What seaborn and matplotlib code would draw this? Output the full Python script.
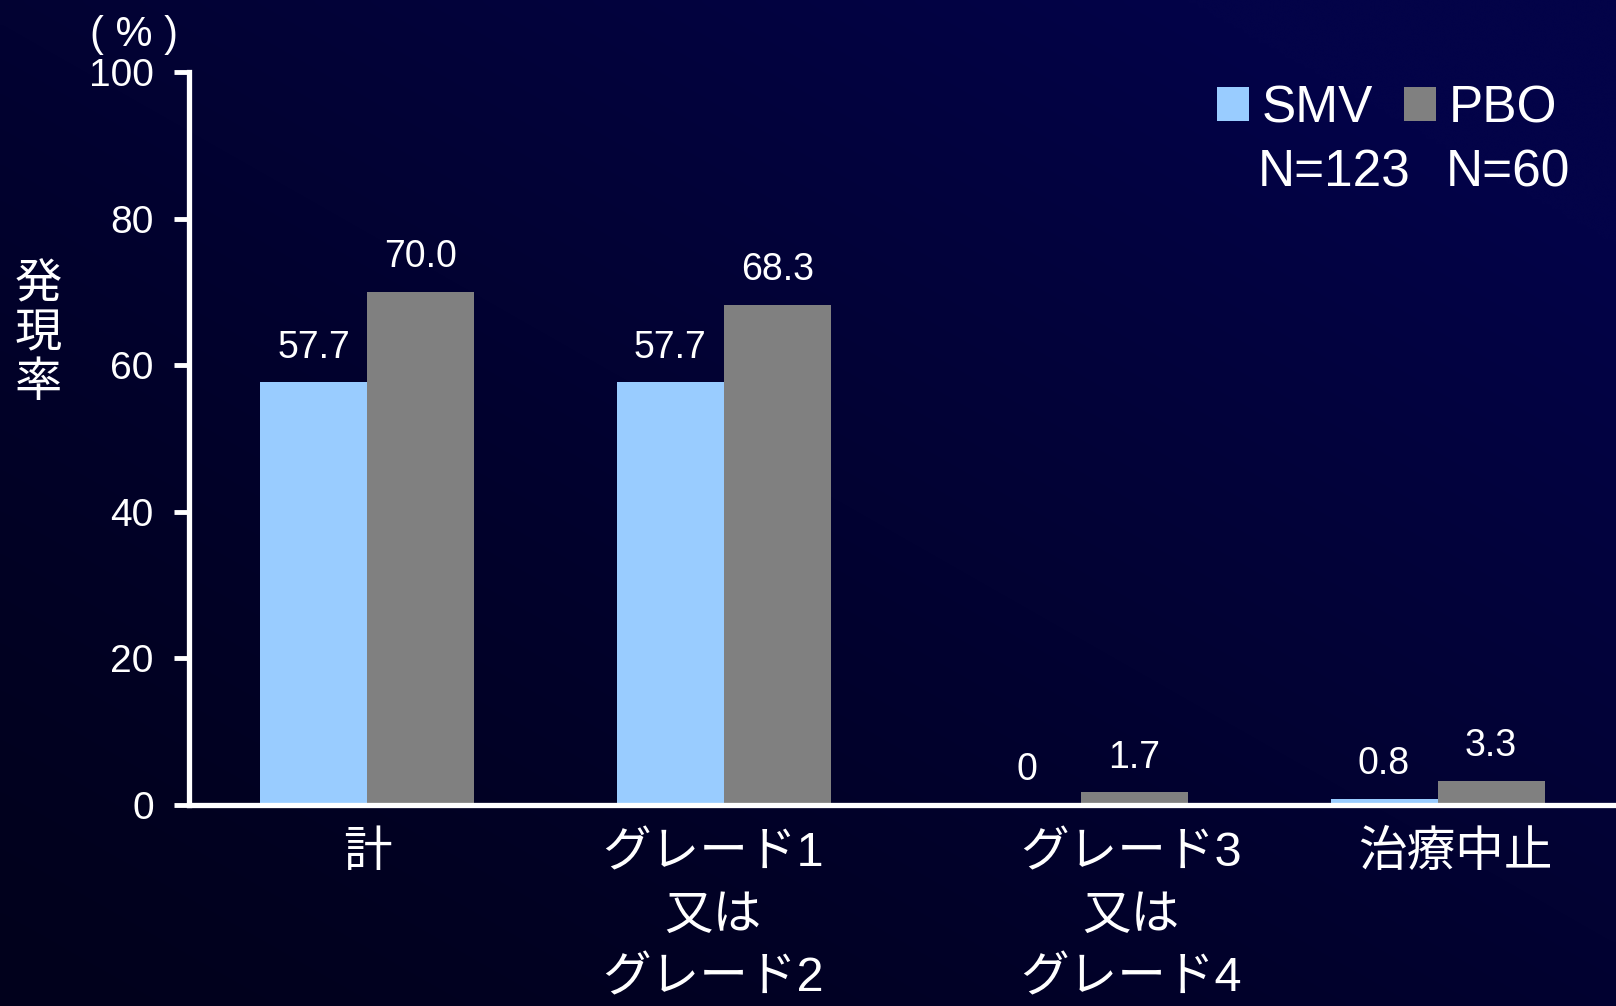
import numpy as np
import pandas as pd
import matplotlib
matplotlib.use("Agg")
import matplotlib.pyplot as plt
from matplotlib.patches import Patch
import seaborn as sns

# ---- data ----
categories = ["計", "グレード1\n又は\nグレード2", "グレード3\n又は\nグレード4", "治療中止"]
smv_values = [57.7, 57.7, 0.0, 0.8]
pbo_values = [70.0, 68.3, 1.7, 3.3]
series_names = ["SMV", "PBO"]
series_n = ["N=123", "N=60"]
y_ticks = [0, 20, 40, 60, 80, 100]

df = pd.DataFrame({
    "category": categories * 2,
    "value": smv_values + pbo_values,
    "series": [series_names[0]] * len(categories) + [series_names[1]] * len(categories),
})

sns.set_theme(style="white")
plt.rcParams["font.family"] = ["Liberation Sans", "Noto Sans CJK JP", "DejaVu Sans"]

colors = {"SMV": "#99CCFF", "PBO": "#808080"}

fig = plt.figure(figsize=(16.16, 10.06), dpi=100)

# background gradient
bg = fig.add_axes([0, 0, 1, 1], zorder=-10)
h, w = 200, 320
xx = np.linspace(0, 1, w)[None, :]
yy = np.linspace(1, 0, h)[:, None]
t = np.clip(0.55 * xx + 0.6 * yy, 0, 1)
t = t ** 1.3
c0 = np.array([0x01, 0x01, 0x1C]) / 255
c1 = np.array([0x03, 0x03, 0x48]) / 255
img = c0[None, None, :] * (1 - t[..., None]) + c1[None, None, :] * t[..., None]
bg.imshow(img, aspect="auto", extent=[0, 1, 0, 1], interpolation="bicubic")
bg.axis("off")

ax = fig.add_axes([0.1167, 0.2, 0.8833, 0.728])
ax.patch.set_alpha(0)
sns.barplot(data=df, x="category", y="value", hue="series", palette=colors,
            width=0.6, ax=ax, legend=False, saturation=1, linewidth=0,
            edgecolor="none")

ax.set_ylim(0, 100)
ax.set_xlim(-0.5, 3.5)
ax.set_yticks(y_ticks)
ax.set_yticklabels([str(v) for v in y_ticks], fontsize=28, color="white")
label_offsets = [0.0, -0.03, 0.14, 0.05]
ax.set_xticks([i + o for i, o in enumerate(label_offsets)])
ax.set_xticklabels(categories, fontsize=35, color="white", linespacing=1.5)
ax.tick_params(axis="x", length=0, pad=19)
ax.tick_params(axis="y", length=11, width=3.5, color="white", pad=14, left=True)
ax.set_xlabel("")
ax.set_ylabel("")

for s in ["top", "right"]:
    ax.spines[s].set_visible(False)
for s in ["left", "bottom"]:
    ax.spines[s].set_color("white")
    ax.spines[s].set_linewidth(3.8)
ax.spines["bottom"].set_zorder(5)

for cont in ax.containers:
    labels = ["0" if v == 0 else f"{v:.1f}" for v in cont.datavalues]
    ax.bar_label(cont, labels=labels, padding=12, fontsize=27, color="white")

# y-axis labels
fig.text(0.0235, 0.668, "発\n現\n率", fontsize=34, color="white", ha="center", va="center",
         linespacing=1.0, family=["Noto Sans CJK JP"])
fig.text(0.083, 0.965, "( % )", fontsize=30, color="white", ha="center", va="center")

# legend
handles = [Patch(facecolor=colors[n], edgecolor="none") for n in series_names]
leg = ax.legend(handles, series_names, ncol=2, loc="upper left",
                bbox_to_anchor=(0.706, 1.012), frameon=False, fontsize=37,
                handlelength=0.62, handleheight=0.62, handletextpad=0.25,
                columnspacing=0.6, borderaxespad=0)
for txt in leg.get_texts():
    txt.set_color("white")
fig.text(0.7785, 0.828, series_n[0], fontsize=37, color="white", ha="left", va="center")
fig.text(0.8945, 0.828, series_n[1], fontsize=37, color="white", ha="left", va="center")

fig.savefig("out.png", dpi=100)
